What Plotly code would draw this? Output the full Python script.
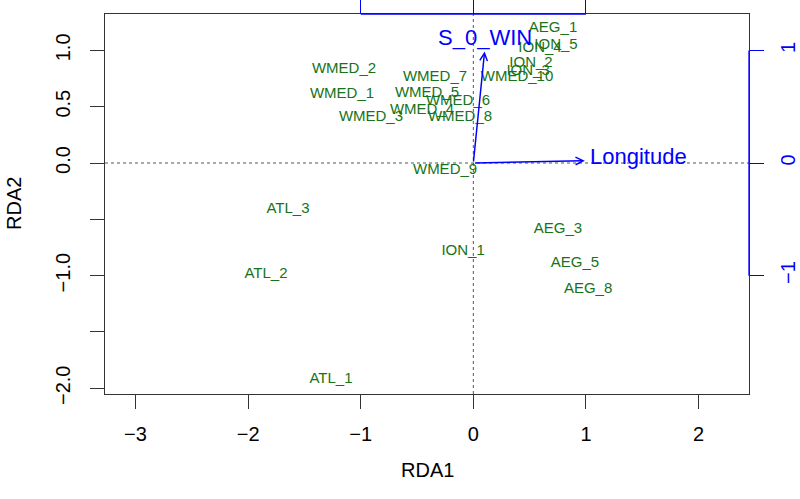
import plotly.graph_objects as go

# ---- data ----
site_labels = ["AEG_1", "ION_5", "ION_4", "ION_2", "ION_3", "WMED_10",
               "WMED_2", "WMED_7", "WMED_1", "WMED_5", "WMED_6", "WMED_4",
               "WMED_3", "WMED_8", "WMED_9", "ATL_3", "ATL_2", "ATL_1",
               "ION_1", "AEG_3", "AEG_5", "AEG_8"]
site_rda1 = [0.708, 0.734, 0.592, 0.512, 0.486, 0.388,
             -1.148, -0.340, -1.166, -0.411, -0.136, -0.456,
             -0.909, -0.118, -0.251, -1.646, -1.841, -1.264,
             -0.091, 0.752, 0.903, 1.019]
site_rda2 = [1.199, 1.048, 1.021, 0.888, 0.817, 0.764,
             0.835, 0.764, 0.613, 0.622, 0.551, 0.471,
             0.409, 0.409, -0.062, -0.409, -0.986, -1.918,
             -0.782, -0.586, -0.888, -1.119]

env_labels = ["S_0_WIN", "Longitude"]
env_rda1 = [0.10, 0.99]
env_rda2 = [0.99, 0.02]

x_ticks = [-3, -2, -1, 0, 1, 2]
x_ticktext = ["\u22123", "\u22122", "\u22121", "0", "1", "2"]
y_ticks = [-2.0, -1.5, -1.0, -0.5, 0.0, 0.5, 1.0]
y_ticktext = ["\u22122.0", "", "\u22121.0", "", "0.0", "0.5", "1.0"]
env_ticks = [-1, 0, 1]
env_ticktext = ["\u22121", "0", "1"]

x_range = [-3.271, 2.448]
y_range = [-2.051, 1.323]

FONT = "Liberation Sans, Arial, Helvetica, sans-serif"
GREEN = "#177317"
BLUE = "#0000ff"
AXC = "#333333"

fig = go.Figure()

fig.add_trace(go.Scatter(
    x=site_rda1, y=site_rda2, text=site_labels, mode="text",
    textposition="middle center",
    textfont=dict(family=FONT, size=15, color=GREEN),
    hoverinfo="skip", showlegend=False))

# invisible trace to anchor secondary axes
fig.add_trace(go.Scatter(x=[0], y=[0], xaxis="x2", yaxis="y2", mode="markers",
                         marker=dict(opacity=0), hoverinfo="skip", showlegend=False))

shapes = [
    dict(type="line", xref="x", yref="paper", x0=0, x1=0, y0=0, y1=1,
         line=dict(color="#555555", width=1, dash="dot"), layer="below"),
    dict(type="line", xref="paper", yref="y", x0=0, x1=1, y0=0, y1=0,
         line=dict(color="#555555", width=1, dash="dot"), layer="below"),
    dict(type="line", xref="x", yref="paper", x0=min(env_ticks), x1=max(env_ticks), y0=1, y1=1,
         line=dict(color=BLUE, width=1.3)),
    dict(type="line", xref="paper", yref="y", x0=1, x1=1, y0=min(env_ticks), y1=max(env_ticks),
         line=dict(color=BLUE, width=1.3)),
]

annotations = []
for lab, ex, ey in zip(env_labels, env_rda1, env_rda2):
    annotations.append(dict(
        x=ex, y=ey, ax=0, ay=0, xref="x", yref="y", axref="x", ayref="y",
        text="", showarrow=True, arrowhead=5, arrowsize=1, arrowwidth=1.5,
        arrowcolor=BLUE, standoff=0, startstandoff=0))
# labels of arrows
annotations.append(dict(x=env_rda1[0], y=env_rda2[0], xref="x", yref="y",
                        text=env_labels[0], showarrow=False, xanchor="center",
                        yanchor="bottom", yshift=0,
                        font=dict(family=FONT, size=22, color=BLUE)))
annotations.append(dict(x=env_rda1[1], y=env_rda2[1], xref="x", yref="y",
                        text=env_labels[1], showarrow=False, xanchor="left",
                        yanchor="middle", xshift=3, yshift=4,
                        font=dict(family=FONT, size=22, color=BLUE)))
# axis titles
annotations.append(dict(x=0.5, y=0, xref="paper", yref="paper", text="RDA1",
                        showarrow=False, xanchor="center", yanchor="middle",
                        yshift=-76, font=dict(family=FONT, size=20, color="#000")))
annotations.append(dict(x=0, y=0.5, xref="paper", yref="paper", text="RDA2",
                        showarrow=False, xanchor="center", yanchor="middle",
                        xshift=-91, textangle=-90,
                        font=dict(family=FONT, size=20, color="#000")))

fig.update_layout(
    width=800, height=499,
    margin=dict(l=105, r=51, t=14, b=105, autoexpand=False),
    paper_bgcolor="white", plot_bgcolor="white",
    font=dict(family=FONT, size=20, color="#000"),
    shapes=shapes, annotations=annotations,
    xaxis=dict(range=x_range, tickvals=x_ticks, ticktext=x_ticktext, automargin=False,
               ticks="outside", ticklen=14, tickwidth=1.3, tickcolor=AXC,
               showline=True, linecolor=AXC, linewidth=1.3, mirror=True,
               showgrid=False, zeroline=False, ticklabelstandoff=8,
               tickfont=dict(family=FONT, size=20, color="#000")),
    yaxis=dict(range=y_range, tickvals=y_ticks, ticktext=y_ticktext, tickangle=-90,
               automargin=False,
               ticks="outside", ticklen=14, tickwidth=1.3, tickcolor=AXC,
               showline=True, linecolor=AXC, linewidth=1.3, mirror=True,
               showgrid=False, zeroline=False, ticklabelstandoff=12,
               tickfont=dict(family=FONT, size=20, color="#000")),
    xaxis2=dict(overlaying="x", side="top", range=x_range, tickvals=env_ticks,
                automargin=False,
                ticks="outside", ticklen=14, tickwidth=1.3, tickcolor=BLUE,
                showticklabels=False, showline=False, showgrid=False, zeroline=False),
    yaxis2=dict(overlaying="y", side="right", range=y_range, tickvals=env_ticks,
                ticktext=env_ticktext, tickangle=-90, automargin=False,
                ticks="outside", ticklen=14, tickwidth=1.3, tickcolor=BLUE,
                showline=False, showgrid=False, zeroline=False, ticklabelstandoff=7,
                tickfont=dict(family=FONT, size=20, color=BLUE)),
)

fig.write_html("out.html", config={"displayModeBar": False},
               post_script="document.body.style.margin='0px';document.body.style.overflow='hidden';")
